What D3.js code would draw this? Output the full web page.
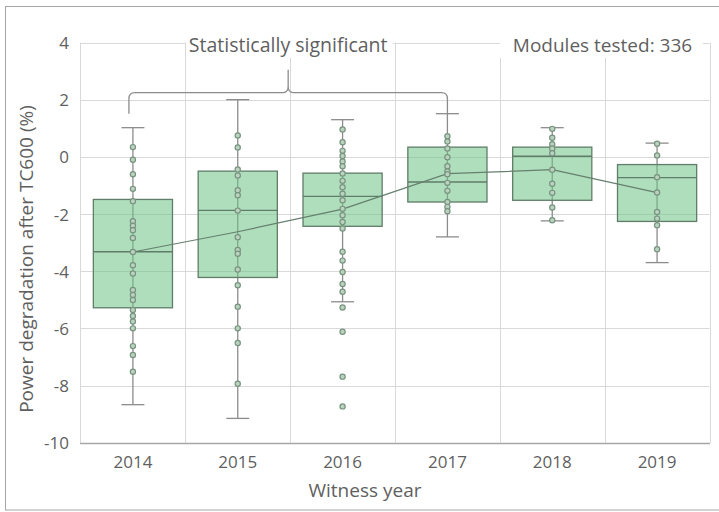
<!DOCTYPE html>
<html>
<head>
<meta charset="utf-8">
<script src="https://cdn.jsdelivr.net/npm/d3@7"></script>
<style>
  body { margin: 0; background: #fff; }
  svg { display: block; font-family: "Open Sans", "Noto Sans", sans-serif; }
</style>
</head>
<body>
<div id="chart"></div>
<script>
const years = ["2014", "2015", "2016", "2017", "2018", "2019"];
// box summaries
const q1 = [-5.28, -4.22, -2.43, -1.58, -1.52, -2.26];
const median = [-3.32, -1.87, -1.38, -0.88, 0.02, -0.73];
const q3 = [-1.49, -0.50, -0.57, 0.34, 0.34, -0.27];
const whiskerLow = [-8.67, -9.15, -5.07, -2.80, -2.24, -3.70];
const whiskerHigh = [1.02, 2.00, 1.30, 1.51, 1.02, 0.48];
const means = [-3.33, -2.62, -1.83, -0.59, -0.45, -1.25];
// individual modules
const pts2014 = [0.34, -0.10, -0.61, -1.12, -1.55, -2.25, -2.41, -2.57, -2.84, -3.33, -3.79, -4.08, -4.66, -4.83, -5.01, -5.36, -5.57, -5.76, -6.00, -6.62, -6.93, -7.52];
const pts2015 = [0.75, 0.33, -0.44, -0.65, -1.17, -1.34, -1.88, -2.81, -3.26, -3.39, -3.94, -4.49, -5.24, -6.00, -6.51, -7.94];
const pts2016 = [0.96, 0.51, 0.21, 0.03, -0.16, -0.33, -0.58, -0.84, -1.06, -1.29, -1.52, -1.82, -2.04, -2.28, -2.51, -3.32, -3.63, -4.03, -4.45, -4.72, -5.27, -6.12, -7.69, -8.73];
const pts2017 = [0.72, 0.54, 0.29, -0.01, -0.33, -0.51, -0.61, -0.91, -1.19, -1.58, -1.75, -1.90];
const pts2018 = [0.98, 0.67, 0.44, 0.29, 0.13, -0.45, -0.94, -1.26, -1.77, -2.22];
const pts2019 = [0.46, 0.05, -0.71, -1.25, -1.93, -2.16, -2.39, -3.23];
const yTicks = [4, 2, 0, -2, -4, -6, -8, -10];
const bracketText = "Statistically significant";
const countText = "Modules tested: 336";

const W = 719, H = 512;
const txt = "#5f5f5f";

const svg = d3.select("#chart").append("svg")
  .attr("width", W)
  .attr("height", H);

// outer frame
svg.append("rect")
  .attr("x", 5.5).attr("y", 6.5)
  .attr("width", 720).attr("height", 503.5)
  .attr("fill", "#fff")
  .attr("stroke", "#a6a6a6");

var x = d3.scaleBand().domain(years).range([80.5, 709.5]).padding(0);
var y = d3.scaleLinear().domain([-10, 4]).range([442.7, 42.5]);
const bw = x.bandwidth();
const cx = (yr) => x(yr) + bw / 2;

// horizontal grid
svg.append("g")
  .selectAll("line")
  .data(yTicks.filter((t) => t > -10))
  .enter()
  .append("line")
  .attr("x1", x.range()[0]).attr("x2", x.range()[1])
  .attr("y1", (d) => Math.round(y(d)) + 0.5)
  .attr("y2", (d) => Math.round(y(d)) + 0.5)
  .attr("stroke", "#d9d9d9");

// vertical grid at band edges
svg.append("g")
  .selectAll("line")
  .data(years)
  .enter()
  .append("line")
  .attr("x1", (d) => Math.round(x(d) + bw) + 0.5)
  .attr("x2", (d) => Math.round(x(d) + bw) + 0.5)
  .attr("y1", y(4)).attr("y2", y(-10))
  .attr("stroke", "#d9d9d9");

svg.append("line")
  .attr("x1", 80.5).attr("x2", 80.5)
  .attr("y1", y(4)).attr("y2", y(-10))
  .attr("stroke", "#d9d9d9");

// bottom axis line
svg.append("line")
  .attr("x1", 80).attr("x2", 710)
  .attr("y1", Math.round(y(-10)) + 0.5).attr("y2", Math.round(y(-10)) + 0.5)
  .attr("stroke", "#a6a6a6")
  .attr("stroke-width", 1.5);

// y tick labels
svg.append("g")
  .selectAll("text")
  .data(yTicks)
  .enter()
  .append("text")
  .attr("x", 69)
  .attr("y", (d) => y(d) + 2)
  .attr("text-anchor", "end")
  .attr("dominant-baseline", "middle")
  .attr("fill", txt)
  .style("font-size", "17px")
  .text((d) => d);

// x tick labels
svg.append("g")
  .selectAll("text")
  .data(years)
  .enter()
  .append("text")
  .attr("x", (d) => cx(d))
  .attr("y", 468)
  .attr("text-anchor", "middle")
  .attr("fill", txt)
  .style("font-size", "17px")
  .text((d) => d);

// axis titles
svg.append("text")
  .attr("x", 365)
  .attr("y", 497)
  .attr("text-anchor", "middle")
  .attr("fill", txt)
  .style("font-size", "19px")
  .text("Witness year");

svg.append("text")
  .attr("transform", "translate(33,259) rotate(-90)")
  .attr("text-anchor", "middle")
  .attr("fill", txt)
  .style("font-size", "19px")
  .text("Power degradation after TC600 (%)");

// boxes
const stats = years.map((yr, i) => ({
  year: yr, q1: q1[i], med: median[i], q3: q3[i],
  lo: whiskerLow[i], hi: whiskerHigh[i], mean: means[i]
}));
const boxW = bw * 0.755;
const capW = 23;

var g = svg.append("g");

g.selectAll("line.whisker")
  .data(stats)
  .enter()
  .append("line")
  .attr("class", "whisker")
  .attr("x1", (d) => cx(d.year)).attr("x2", (d) => cx(d.year))
  .attr("y1", (d) => y(d.hi)).attr("y2", (d) => y(d.lo))
  .attr("stroke", "#8c8c8c")
  .attr("stroke-width", 1.3);

["hi", "lo"].forEach(function (k) {
  g.selectAll("line.cap-" + k)
    .data(stats)
    .enter()
    .append("line")
    .attr("class", "cap-" + k)
    .attr("x1", (d) => cx(d.year) - capW / 2)
    .attr("x2", (d) => cx(d.year) + capW / 2)
    .attr("y1", (d) => y(d[k])).attr("y2", (d) => y(d[k]))
    .attr("stroke", "#8c8c8c")
    .attr("stroke-width", 1.3);
});

g.selectAll("rect.box")
  .data(stats)
  .enter()
  .append("rect")
  .attr("class", "box")
  .attr("x", (d) => cx(d.year) - boxW / 2)
  .attr("width", boxW)
  .attr("y", (d) => y(d.q3))
  .attr("height", (d) => y(d.q1) - y(d.q3))
  .attr("fill", "#6cc383")
  .attr("fill-opacity", 0.55)
  .attr("stroke", "#5f7d68")
  .attr("stroke-width", 1.3);

g.selectAll("line.median")
  .data(stats)
  .enter()
  .append("line")
  .attr("class", "median")
  .attr("x1", (d) => cx(d.year) - boxW / 2)
  .attr("x2", (d) => cx(d.year) + boxW / 2)
  .attr("y1", (d) => y(d.med)).attr("y2", (d) => y(d.med))
  .attr("stroke", "#5f7d68")
  .attr("stroke-width", 1.3);

// mean line
g.append("path")
  .datum(stats)
  .attr("fill", "none")
  .attr("stroke", "#667f6e")
  .attr("stroke-width", 1.2)
  .attr("d", d3.line().x((d) => cx(d.year)).y((d) => y(d.mean)));

// points
const allPts = [pts2014, pts2015, pts2016, pts2017, pts2018, pts2019];
const dots = [];
allPts.forEach((arr, i) => arr.forEach((v) => dots.push({ year: years[i], value: v })));

g.selectAll("circle")
  .data(dots)
  .enter()
  .append("circle")
  .attr("cx", (d) => cx(d.year))
  .attr("cy", (d) => y(d.value))
  .attr("r", 2.6)
  .attr("fill", "#b9d3bf")
  .attr("stroke", "#78937f")
  .attr("stroke-width", 1.2);

// bracket over 2014..2017
const xl = cx("2014") - 4, xr = cx("2017");
const xm = (xl + xr) / 2;
const y0 = y(whiskerHigh[3]);
const yb = y(2.25), ytip = y(3.05);
const r = 6;
svg.append("path")
  .attr("fill", "none")
  .attr("stroke", "#8c8c8c")
  .attr("stroke-width", 1.3)
  .attr("d",
    "M" + xl + "," + y0 + " V" + (yb + r) +
    " Q" + xl + "," + yb + " " + (xl + r) + "," + yb +
    " H" + (xm - 5) +
    " Q" + xm + "," + yb + " " + xm + "," + (yb - 6) +
    " V" + ytip +
    " M" + xm + "," + (yb - 6) +
    " Q" + xm + "," + yb + " " + (xm + 5) + "," + yb +
    " H" + (xr - r) +
    " Q" + xr + "," + yb + " " + xr + "," + (yb + r) +
    " V" + y0);

// annotation labels with white backing
svg.append("rect")
  .attr("x", 186).attr("y", 26).attr("width", 207).attr("height", 32)
  .attr("fill", "#fff");
svg.append("rect")
  .attr("x", 500).attr("y", 26).attr("width", 203).attr("height", 32)
  .attr("fill", "#fff");

svg.append("text")
  .attr("x", xm)
  .attr("y", 52)
  .attr("text-anchor", "middle")
  .attr("fill", txt)
  .style("font-size", "19.5px")
  .text(bracketText);

svg.append("text")
  .attr("x", 602.5)
  .attr("y", 52)
  .attr("text-anchor", "middle")
  .attr("fill", txt)
  .style("font-size", "19px")
  .text(countText);
</script>
</body>
</html>
